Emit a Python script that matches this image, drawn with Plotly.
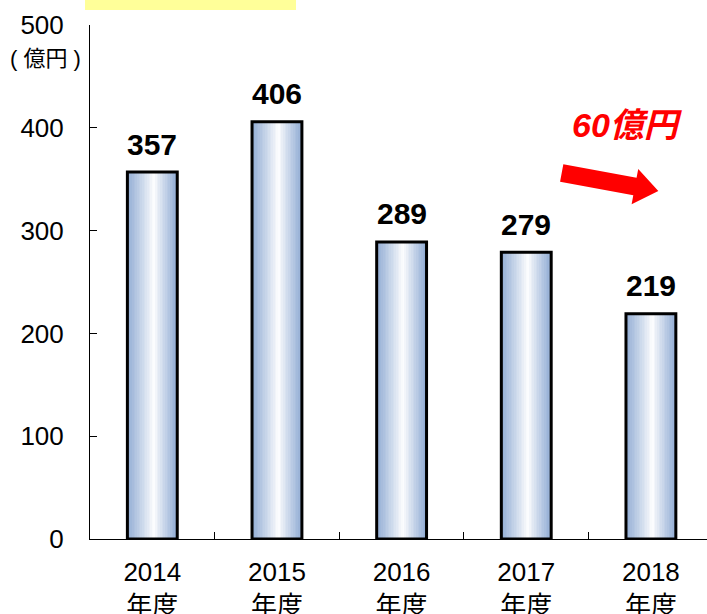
import math
import plotly.graph_objects as go

# ---- data ----
years = ["2014", "2015", "2016", "2017", "2018"]
suffix = "年度"
values = [357, 406, 289, 279, 219]
y_ticks = [0, 100, 200, 300, 400, 500]
unit_label = "( 億円 )"
delta_label = "60億円"

categories = [f"{y}<br>{suffix}" for y in years]

W, H = 707, 614
ML, MT = 90, 25
PW, PH = 617, 514
MR = W - ML - PW
MB = H - MT - PH

FONT = "Arial, 'Liberation Sans', 'Noto Sans CJK JP', sans-serif"

fig = go.Figure()

# gradient bars made of thin slices
bar_w = 0.40
N = 30
edge = (145, 172, 212)
for k in range(N):
    c = (k + 0.5) / N
    t = abs(c - 0.54) / 0.54 if c < 0.54 else abs(c - 0.54) / 0.46
    m = t ** 0.9
    col = tuple(int(round(255 + (e - 255) * m)) for e in edge)
    sw = bar_w / N
    fig.add_trace(go.Bar(
        x=categories, y=values, width=sw * 1.15, offset=-bar_w / 2 + k * sw,
        marker=dict(color=f"rgb{col}", line=dict(width=0)),
        hoverinfo="skip", showlegend=False))

# outlines
fig.add_trace(go.Bar(
    x=categories, y=values, width=bar_w, offset=-bar_w / 2,
    marker=dict(color="rgba(0,0,0,0)", line=dict(color="black", width=3)),
    showlegend=False))

# value labels
for c, v in zip(categories, values):
    fig.add_annotation(x=c, y=v, text=f"<b>{v}</b>", showarrow=False,
                       xanchor="center", yanchor="middle", yshift=28,
                       font=dict(size=30, color="black", family=FONT))

def px2paper(px, py):
    # screen pixel -> paper coordinates
    return (px - ML) / PW, (MT + PH - py) / PH

# unit label
ux, uy = px2paper(45, 59)
fig.add_annotation(xref="paper", yref="paper", x=ux, y=uy, text=unit_label,
                   xanchor="center", yanchor="middle",
                   showarrow=False, font=dict(size=22, color="black", family=FONT))

# yellow box at top
x0, y0 = px2paper(85, 10)
x1, y1 = px2paper(296, -2)
fig.add_shape(type="rect", xref="paper", yref="paper", x0=x0, y0=y0, x1=x1, y1=y1,
              fillcolor="#FFFF99", line=dict(width=0), layer="above")

# red arrow
Lx, Ly = 561.7, 172.9
a = math.radians(10.6)
u = (math.cos(a), math.sin(a))
n = (-math.sin(a), math.cos(a))
def pt(s, d):
    return (Lx + s * u[0] + d * n[0], Ly + s * u[1] + d * n[1])
pts = [pt(0, -8.9), pt(74.5, -8.9), pt(74.5, -18), pt(98.3, 0),
       pt(74.5, 18), pt(74.5, 8.9), pt(0, 8.9)]
pp = [px2paper(*p) for p in pts]
path = "M " + " L ".join(f"{p[0]:.5f},{p[1]:.5f}" for p in pp) + " Z"
fig.add_shape(type="path", xref="paper", yref="paper", path=path,
              fillcolor="#FF0000", line=dict(width=0))

dx, dy = px2paper(627, 125)
fig.add_annotation(xref="paper", yref="paper", x=dx, y=dy, text=f"<b><i>{delta_label}</i></b>",
                   xanchor="center", yanchor="middle",
                   showarrow=False, font=dict(size=34, color="#FF0000", family=FONT))

fig.update_layout(
    template="none",
    width=W, height=H, barmode="overlay",
    margin=dict(l=ML, r=MR, t=MT, b=MB, autoexpand=False),
    paper_bgcolor="white", plot_bgcolor="white",
    font=dict(family=FONT, color="black"),
    showlegend=False,
    xaxis=dict(type="category", range=[-0.5, 4.45], showline=True, linecolor="black",
               linewidth=1, ticks="inside", tickson="boundaries", ticklen=7,
               tickcolor="black", tickfont=dict(size=26, family=FONT),
               ticklabelstandoff=10, showgrid=False, zeroline=False, automargin=False),
    yaxis=dict(range=[0, 500], tickvals=y_ticks, showline=True, linecolor="black",
               linewidth=1, ticks="inside", ticklen=7, tickcolor="black",
               tickfont=dict(size=26, family=FONT), ticklabelstandoff=20,
               showgrid=False, zeroline=False, automargin=False),
)

fig.write_html("out.html", config={"displayModeBar": False},
               post_script="document.body.style.margin='0';document.body.style.overflow='hidden';")
